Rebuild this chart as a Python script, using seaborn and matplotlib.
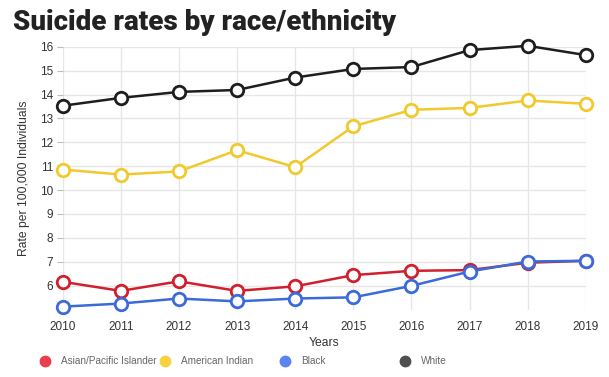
import matplotlib.pyplot as plt
from matplotlib.lines import Line2D
import pandas as pd
import seaborn as sns

years = [2010, 2011, 2012, 2013, 2014, 2015, 2016, 2017, 2018, 2019]
groups = ["Asian/Pacific Islander", "American Indian", "Black", "White"]
asian = [6.16, 5.78, 6.18, 5.78, 5.97, 6.44, 6.62, 6.65, 6.96, 7.04]
american_indian = [10.86, 10.65, 10.78, 11.67, 10.96, 12.67, 13.36, 13.44, 13.75, 13.61]
black = [5.12, 5.25, 5.46, 5.34, 5.46, 5.51, 5.99, 6.59, 7.01, 7.04]
white = [13.53, 13.86, 14.11, 14.19, 14.71, 15.07, 15.15, 15.86, 16.04, 15.65]
yticks = list(range(6, 17))

line_colors = ["#d0202e", "#f2c92c", "#3b6bd8", "#1e1e1e"]
legend_colors = ["#e8404f", "#f7d23e", "#5a84f0", "#505050"]

df = pd.DataFrame({
    "Years": years * 4,
    "Rate": asian + american_indian + black + white,
    "Group": [g for g in groups for _ in years],
})

sns.set_style("white")
plt.rcParams["font.family"] = ["Liberation Sans", "DejaVu Sans"]

fig = plt.figure(figsize=(6.09, 3.77), dpi=100)
ax = fig.add_axes([0.103, 0.179, 0.859, 0.697])

sns.lineplot(data=df, x="Years", y="Rate", hue="Group", palette=line_colors,
             marker="o", markersize=9, markerfacecolor="white", markeredgewidth=2,
             linewidth=1.8, legend=False, ax=ax, zorder=3)
for ln in ax.lines:
    ln.set_markeredgecolor(ln.get_color())
    ln.set_clip_on(False)

ax.set_xlim(2010, 2019)
ax.set_ylim(5, 16)
ax.set_xticks(years)
ax.set_yticks(yticks)
ax.grid(True, color="#e6e6e6", linewidth=1)
for s in ax.spines.values():
    s.set_visible(False)
ax.tick_params(axis="y", left=True, length=4, color="#bbbbbb", labelsize=8.5, labelcolor="#333333", pad=3)
ax.tick_params(axis="x", bottom=False, labelsize=8.5, labelcolor="#333333", pad=5)
ax.set_xlabel("Years", fontsize=8.7, color="#333333", labelpad=3)
ax.set_ylabel("Rate per 100,000 Individuals", fontsize=8.7, color="#333333", labelpad=7)

fig.text(0.022, 0.94, "Suicide rates by race/ethnicity", fontsize=20, fontweight="black",
         color="#222222", family=["Roboto", "DejaVu Sans"], va="center")

# one legend per entry so the columns sit at equal spacing
for i, (g, c) in enumerate(zip(groups, legend_colors)):
    h = Line2D([], [], marker="o", linestyle="", markersize=7.5, markerfacecolor=c, markeredgecolor=c)
    fig.legend([h], [g], loc="center left", bbox_to_anchor=(0.058 + i * 0.197, 0.042),
               frameon=False, fontsize=7.2, labelcolor="#666666", handletextpad=0.55,
               borderaxespad=0, borderpad=0)

fig.savefig("out.png", dpi=100)
